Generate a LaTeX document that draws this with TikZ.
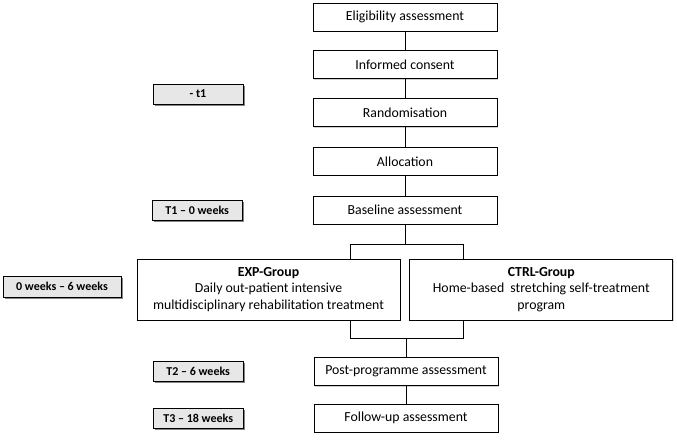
\documentclass[tikz,border=0pt]{standalone}
\usepackage{fontspec}
\setmainfont{Carlito}
\definecolor{gris}{RGB}{231, 231, 231}
\definecolor{sombra}{RGB}{120, 120, 120}
\usetikzlibrary{positioning}
\usetikzlibrary{calc, shadows}

\begin{document}
\begin{tikzpicture}[
    font=\fontsize{13.8}{16}\selectfont,
    caja/.style={draw, line width=0.8pt, fill=white, minimum width=184pt, minimum height=28pt, inner sep=1pt,
        drop shadow={shadow xshift=1pt, shadow yshift=-1pt, fill=sombra, opacity=0.35}},
    grupo/.style={draw, line width=0.8pt, fill=white, minimum width=263pt, minimum height=61pt, align=center, inner sep=1pt,
        font=\fontsize{13.8}{16.5}\selectfont,
        drop shadow={shadow xshift=1pt, shadow yshift=-1pt, fill=sombra, opacity=0.35}},
    tiempo/.style={draw, line width=0.8pt, fill=gris, minimum width=90pt, minimum height=20pt, inner sep=1pt,
        font=\fontsize{12}{14}\selectfont\bfseries,
        drop shadow={shadow xshift=1.8pt, shadow yshift=-1.8pt, fill=sombra, opacity=0.9}},
    linea/.style={line width=0.8pt}
]
    \useasboundingbox (0,0) rectangle (677pt,-439pt);

    % Study flow
    \node[caja] (elig) at (405pt,-17pt) {Eligibility assessment};
    \node[caja] (cons) [below=19pt of elig] {Informed consent};
    \node[caja] (rand) [below=19pt of cons] {Randomisation};
    \node[caja] (alloc) [below=20pt of rand] {Allocation};
    \node[caja] (base) [below=20pt of alloc] {Baseline assessment};

    % Groups
    \node[grupo] (exp) at (268.5pt,-289.5pt) {\textbf{EXP-Group}\\Daily out-patient intensive\\multidisciplinary rehabilitation treatment};
    \node[grupo] (ctrl) [right=9pt of exp] {\textbf{CTRL-Group}\\Home-based~ stretching self-treatment\\program};

    % Follow-up
    \node[caja] (post) at (406pt,-371.5pt) {Post-programme assessment};
    \node[caja] (foll) [below=18pt of post] {Follow-up assessment};

    % Time points
    \node[tiempo] (t0) at (198pt,-94pt) {- t1};
    \node[tiempo] (t1) [left=70pt of base] {T1 -- 0 weeks};
    \node[tiempo, minimum width=118pt, minimum height=21pt] (fase) at (62pt,-286.5pt) {0 weeks -- 6 weeks};
    \node[tiempo] (t2) [left=70pt of post] {T2 -- 6 weeks};
    \node[tiempo] (t3) [left=70pt of foll] {T3 -- 18 weeks};

    % Connections
    \draw[linea] (elig) -- (cons);
    \draw[linea] (cons) -- (rand);
    \draw[linea] (rand) -- (alloc);
    \draw[linea] (alloc) -- (base);

    \coordinate (split) at ($(base.south)+(0,-20pt)$);
    \coordinate (expin) at ($(exp.north east)+(-50pt,0)$);
    \coordinate (ctrlin) at ($(ctrl.north west)+(54pt,0)$);
    \draw[linea] (base) -- (split);
    \draw[linea] (expin) |- (split) -| (ctrlin);

    \coordinate (merge) at ($(post.north)+(0,19pt)$);
    \coordinate (expout) at ($(exp.south east)+(-50pt,0)$);
    \coordinate (ctrlout) at ($(ctrl.south west)+(54pt,0)$);
    \draw[linea] (expout) |- (merge) -| (ctrlout);
    \draw[linea] (merge) -- (post);
    \draw[linea] (post) -- (foll);
\end{tikzpicture}
\end{document}
